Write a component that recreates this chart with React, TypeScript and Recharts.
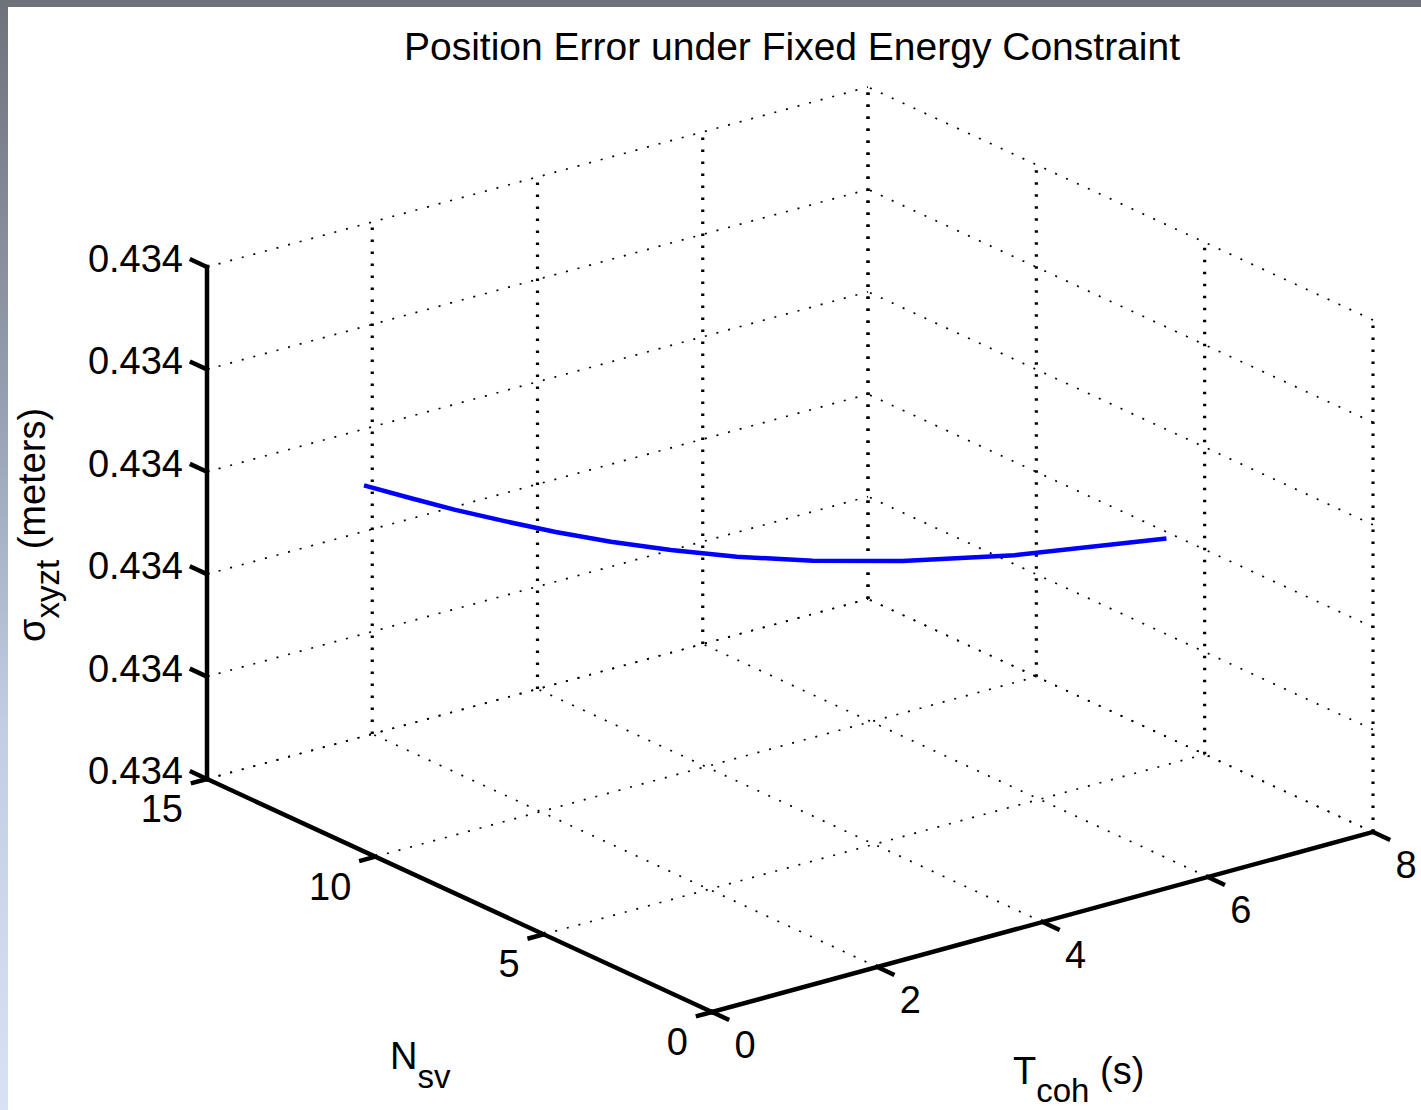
import React from 'react';
import { ScatterChart, Scatter, XAxis, YAxis, ReferenceLine, ReferenceDot } from 'recharts';

// axis ticks
const nsvTicks = [0, 5, 10, 15];
const tcohTicks = [0, 2, 4, 6, 8];
const sigmaTicks = [0.4338, 0.4339, 0.434, 0.4341, 0.4342, 0.4343];

// curve (fixed energy: fewer satellites -> longer coherent time)
const nsvValues = [15, 14, 13, 12, 11, 10, 9, 8, 7, 6, 5, 4];
const tcohValues = [1.9, 2.04, 2.19, 2.38, 2.59, 2.85, 3.17, 3.56, 4.07, 4.75, 5.7, 7.13];
const sigmaValues = [0.434045, 0.434045, 0.434045, 0.434045, 0.434045, 0.434045, 0.434045, 0.434045, 0.434045, 0.434045, 0.434045, 0.434045];

const W = 1421;
const H = 1110;
const FONT = '"Liberation Sans", Arial, Helvetica, sans-serif';

const N_MAX = nsvTicks[nsvTicks.length - 1];
const T_MAX = tcohTicks[tcohTicks.length - 1];
const Z_MIN = sigmaTicks[0];
const Z_MAX = sigmaTicks[sigmaTicks.length - 1];

// view: where the 3 axes of the box land on screen
const ORIGIN = { x: 712, y: 1012 };
const N_DIR = { x: -505, y: -233 };
const T_DIR = { x: 661, y: -180 };
const Z_DIR = { x: 0, y: -512 };

const project = (n: number, t: number, z: number) => {
  const fn = n / N_MAX;
  const ft = t / T_MAX;
  const fz = (z - Z_MIN) / (Z_MAX - Z_MIN);
  return {
    px: ORIGIN.x + fn * N_DIR.x + ft * T_DIR.x + fz * Z_DIR.x,
    py: ORIGIN.y + fn * N_DIR.y + ft * T_DIR.y + fz * Z_DIR.y,
  };
};

type P3 = [number, number, number];
type Seg = { a: P3; b: P3; vertical?: boolean };

const gridSegs: Seg[] = [];
// floor
nsvTicks.forEach(n => gridSegs.push({ a: [n, 0, Z_MIN], b: [n, T_MAX, Z_MIN] }));
tcohTicks.forEach(t => gridSegs.push({ a: [0, t, Z_MIN], b: [N_MAX, t, Z_MIN] }));
// back wall at N = 15
tcohTicks.forEach(t => gridSegs.push({ a: [N_MAX, t, Z_MIN], b: [N_MAX, t, Z_MAX], vertical: true }));
sigmaTicks.forEach(z => gridSegs.push({ a: [N_MAX, 0, z], b: [N_MAX, T_MAX, z] }));
// back wall at T = 8
nsvTicks.forEach(n => gridSegs.push({ a: [n, T_MAX, Z_MIN], b: [n, T_MAX, Z_MAX], vertical: true }));
sigmaTicks.forEach(z => gridSegs.push({ a: [0, T_MAX, z], b: [N_MAX, T_MAX, z] }));

const axisSegs: Seg[] = [
  { a: [0, 0, Z_MIN], b: [N_MAX, 0, Z_MIN] },
  { a: [0, 0, Z_MIN], b: [0, T_MAX, Z_MIN] },
  { a: [N_MAX, 0, Z_MIN], b: [N_MAX, 0, Z_MAX] },
];
sigmaTicks.forEach(z => axisSegs.push({ a: [N_MAX, 0, z], b: [N_MAX + 0.45, 0, z] }));
nsvTicks.forEach(n => axisSegs.push({ a: [n, 0, Z_MIN], b: [n, -0.17, Z_MIN] }));
tcohTicks.forEach(t => axisSegs.push({ a: [0, t, Z_MIN], b: [-0.45, t, Z_MIN] }));

const curveData = nsvValues.map((n, i) => project(n, tcohValues[i], sigmaValues[i]));

const toSegment = (s: Seg) => {
  const a = project(...s.a);
  const b = project(...s.b);
  return [{ x: a.px, y: a.py }, { x: b.px, y: b.py }];
};

const TickText = (props: any) => {
  const { viewBox, value, dx = 0, dy = 0, anchor = 'middle' } = props;
  if (!viewBox) return null;
  const cx = viewBox.x + (viewBox.width || 0) / 2;
  const cy = viewBox.y + (viewBox.height || 0) / 2;
  return (
    <text x={cx + dx} y={cy + dy} textAnchor={anchor} fontSize={38} fontFamily={FONT} fill="#000">
      {value}
    </text>
  );
};

const NoDot = () => <g />;

export default function App() {
  return (
    <div style={{ position: 'absolute', left: 0, top: 0, width: W, height: H, overflow: 'hidden',
      background: 'linear-gradient(to bottom, #6e727a 0%, #959eb0 35%, #c2cce3 65%, #d9e1f4 100%)' }}>
      <div style={{ position: 'absolute', left: 8, top: 7, width: W - 8, height: H - 7, background: '#fff' }} />
      <div style={{ position: 'absolute', left: 0, top: 0, width: W, height: 7, background: '#6e727a' }} />
      <div style={{ position: 'absolute', left: 0, top: 0 }}>
        <ScatterChart width={W} height={H} margin={{ top: 0, right: 0, bottom: 0, left: 0 }}>
          <XAxis type="number" dataKey="px" domain={[0, W]} hide allowDataOverflow />
          <YAxis type="number" dataKey="py" domain={[0, H]} reversed hide allowDataOverflow />
          {gridSegs.map((s, i) => (
            <ReferenceLine
              key={'g' + i}
              segment={toSegment(s)}
              stroke="#000"
              strokeWidth={s.vertical ? 3.2 : 1.7}
              strokeDasharray={s.vertical ? '2.5 9.5' : '2 10'}
              ifOverflow="visible"
            />
          ))}
          <Scatter
            data={curveData}
            line={{ stroke: '#0000ff', strokeWidth: 4.5 }}
            lineType="joint"
            shape={NoDot}
            fill="#0000ff"
            isAnimationActive={false}
          />
          {axisSegs.map((s, i) => (
            <ReferenceLine
              key={'a' + i}
              segment={toSegment(s)}
              stroke="#000"
              strokeWidth={4.5}
              strokeLinecap="square"
              ifOverflow="visible"
            />
          ))}
          {sigmaTicks.map((z, i) => {
            const p = project(N_MAX, 0, z);
            return (
              <ReferenceDot key={'zl' + i} x={p.px} y={p.py} r={0} stroke="none" fill="none" ifOverflow="visible"
                label={<TickText value={z.toFixed(3)} dx={-24} dy={5} anchor="end" />} />
            );
          })}
          {nsvTicks.map((n, i) => {
            const p = project(n, 0, Z_MIN);
            return (
              <ReferenceDot key={'nl' + i} x={p.px} y={p.py} r={0} stroke="none" fill="none" ifOverflow="visible"
                label={<TickText value={String(n)} dx={-24} dy={43} anchor="end" />} />
            );
          })}
          {tcohTicks.map((t, i) => {
            const p = project(0, t, Z_MIN);
            return (
              <ReferenceDot key={'tl' + i} x={p.px} y={p.py} r={0} stroke="none" fill="none" ifOverflow="visible"
                label={<TickText value={String(t)} dx={33} dy={46} anchor="middle" />} />
            );
          })}
        </ScatterChart>
      </div>
      <svg width={W} height={H} style={{ position: 'absolute', left: 0, top: 0, pointerEvents: 'none' }}>
        <text x={792} y={60} textAnchor="middle" fontSize={39} fontFamily={FONT} fill="#000">
          Position Error under Fixed Energy Constraint
        </text>
        <text x={390} y={1069} fontSize={38} fontFamily={FONT} fill="#000">
          N<tspan fontSize={33} dy={19}>sv</tspan>
        </text>
        <text x={1013} y={1084} fontSize={38} fontFamily={FONT} fill="#000">
          T<tspan fontSize={33} dy={18}>coh</tspan><tspan fontSize={38} dy={-18}> (s)</tspan>
        </text>
        <text transform="translate(45, 642) rotate(-90)" x={0} y={0} fontSize={38} fontFamily={FONT} fill="#000">
          σ<tspan fontSize={33} dy={14}>xyzt</tspan><tspan fontSize={38} dy={-14}> (meters)</tspan>
        </text>
      </svg>
    </div>
  );
}
